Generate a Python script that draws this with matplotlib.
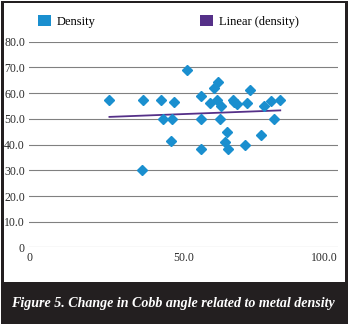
import numpy as np
import matplotlib
matplotlib.use('Agg')
import matplotlib.pyplot as plt
from matplotlib.patches import Patch, Rectangle

# metal density (x) vs change in Cobb angle (y)
density = [26.0, 36.8, 42.7, 46.8, 43.4, 46.3, 51.1, 55.6, 55.8, 58.7,
           59.9, 61.2, 60.7, 62.0, 61.7, 64.1, 65.9, 66.4, 67.3, 70.6,
           71.4, 76.1, 78.2, 79.2, 81.3, 46.0, 36.5, 55.8, 63.3, 64.4,
           70.0, 75.1]
cobb_change = [57.2, 57.2, 57.2, 56.4, 49.9, 49.9, 68.9, 59.1, 49.9, 56.0,
               62.1, 64.4, 57.4, 55.1, 49.9, 45.0, 57.4, 56.7, 55.9, 56.1,
               61.1, 54.9, 56.8, 49.9, 57.3, 41.5, 30.0, 38.1, 40.9, 38.1,
               39.7, 43.8]
x_ticks = [0, 50, 100]
x_labels = ['0', '50.0', '100.0']
y_ticks = [0, 10, 20, 30, 40, 50, 60, 70, 80]
y_labels = ['0', '10.0', '20.0', '30.0', '40.0', '50.0', '60.0', '70.0', '80.0']
caption = 'Figure 5. Change in Cobb angle related to metal density'

blue = '#1a8fcf'
purple = '#553088'
dark = '#231f20'

plt.rcParams['font.family'] = ['Liberation Serif', 'DejaVu Serif']

fig = plt.figure(figsize=(3.51, 3.29), dpi=100)

# outer frame and caption band
fig.patches.append(Rectangle((0.004, 0.015), 0.988, 0.981, transform=fig.transFigure,
                             facecolor=dark, edgecolor='none', zorder=0))
fig.patches.append(Rectangle((0.012, 0.143), 0.970, 0.847, transform=fig.transFigure,
                             facecolor='white', edgecolor='none', zorder=0))
fig.text(0.492, 0.078, caption, color='white', fontsize=10.1, fontweight='bold',
         fontstyle='italic', ha='center', va='center')

ax = fig.add_axes([0.083, 0.248, 0.880, 0.625])
ax.set_zorder(2)
ax.set_facecolor('none')

x = np.array(density)
y = np.array(cobb_change)
ax.plot(x, y, linestyle='none', marker='D', ms=4.8, color=blue, zorder=3)

# linear trend line
k, b = np.polyfit(x, y, 1)
xs = np.array([x.min(), x.max()])
ax.plot(xs, k * xs + b, color=purple, lw=1.3, zorder=2)

ax.set_xlim(0, 100)
ax.set_ylim(0, 80)
ax.set_yticks(y_ticks)
ax.set_yticklabels(y_labels)
ax.set_xticks(x_ticks)
ax.set_xticklabels(x_labels)
ax.get_xticklabels()[-1].set_ha('right')
ax.get_xticklabels()[-1].set_x(101)
ax.tick_params(length=0, labelsize=8.5, colors='#2a2a2a', pad=3)
ax.grid(axis='y', color='#808080', lw=0.8)
ax.set_axisbelow(True)
for s in ax.spines.values():
    s.set_visible(False)

handles = [Patch(facecolor=blue, edgecolor='none', label='Density'),
           Patch(facecolor=purple, edgecolor='none', label='Linear (density)')]
ax.legend(handles=handles, loc='center left', bbox_to_anchor=(0.075, 0.935),
          bbox_transform=fig.transFigure, ncol=2, frameon=False, fontsize=9,
          handlelength=1.05, handleheight=1.05, handletextpad=0.45, columnspacing=8.4)

fig.savefig('out.png', dpi=100)
